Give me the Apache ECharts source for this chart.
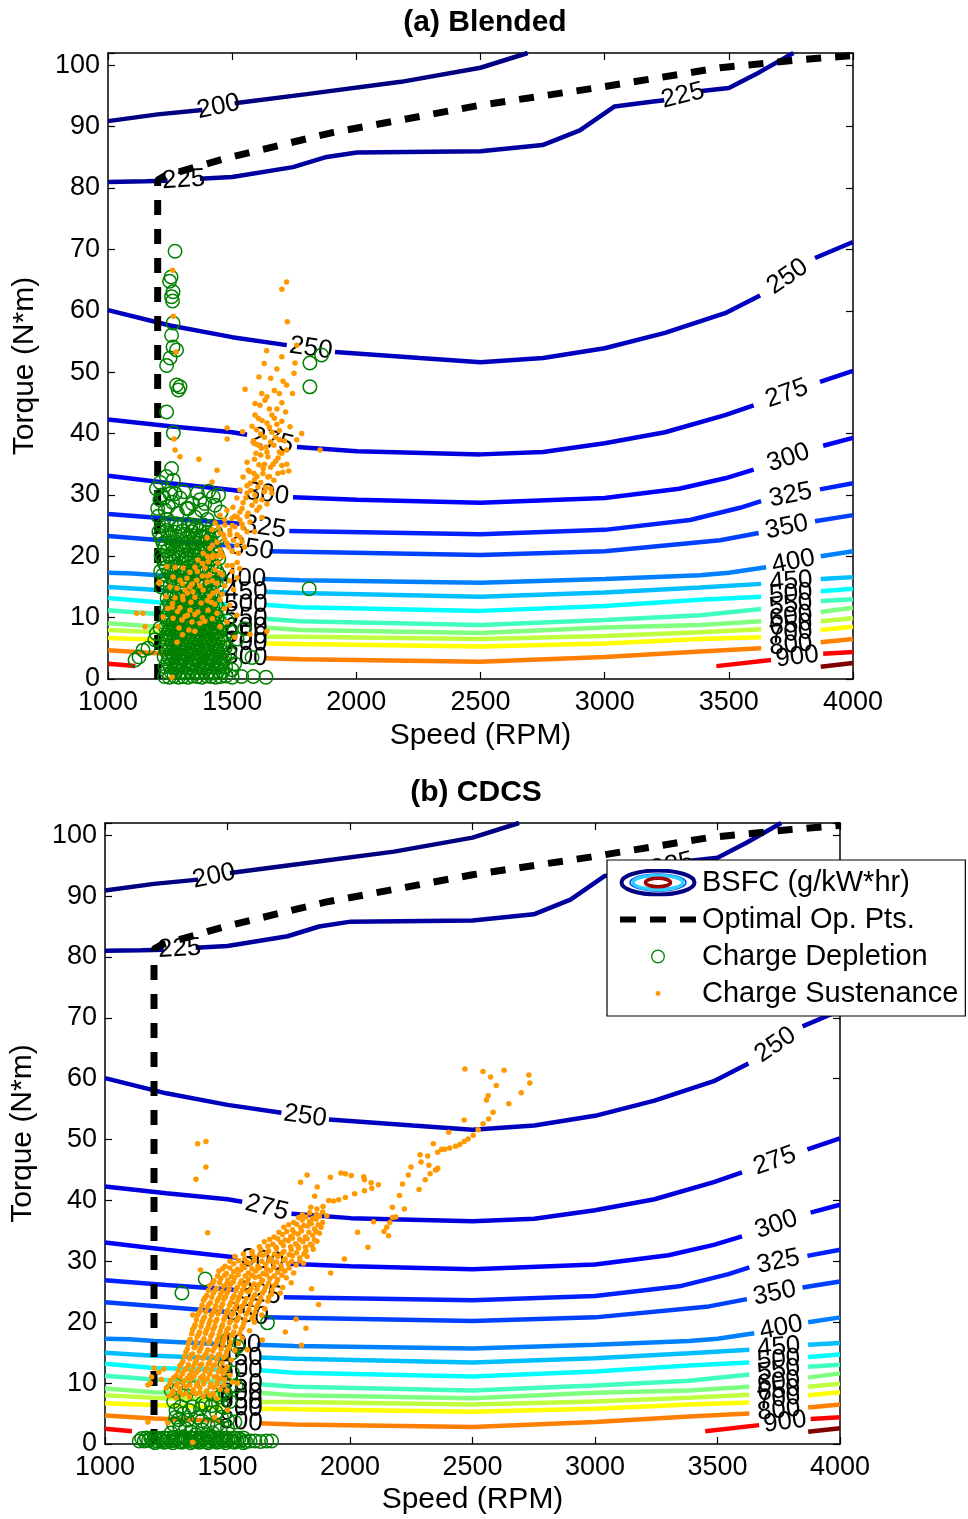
<!DOCTYPE html>
<html>
<head>
<meta charset="utf-8">
<script src="https://cdn.jsdelivr.net/npm/echarts@6/dist/echarts.min.js"></script>
<style>
html,body{margin:0;padding:0;background:#fff;}
#chart{width:968px;height:1519px;}
</style>
</head>
<body>
<div id="chart"></div>
<script>
// BSFC contour levels (g/kW*hr), each traced as a list of line segments; gaps hold the inline labels
const bsfcLevels = [200,225,250,275,300,325,350,400,450,500,550,600,650,700,800,900,1000];

const c200 = [[[1000,90.9],[1200,92],[1380,92.7]],[[1510,93.8],[1800,95.3],[2180,97.3],[2500,99.6],[2690,102]]];
const c225 = [[[1000,81],[1150,81.1],[1240,81.2]],[[1370,81.5],[1500,81.8],[1745,83.4],[1874,85],[2003,85.8],[2500,86],[2750,87],[2900,89.4],[3040,93.3],[3180,94],[3240,94.3]],[[3390,95.8],[3500,96.3],[3620,98.8],[3760,102]]];
const c250 = [[[1000,60.1],[1250,57.6],[1500,55.7],[1720,54.4]],[[1914,53.3],[2256,52.3],[2500,51.6],[2752,52.3],[3000,53.9],[3243,56.4],[3485,59.6],[3626,62.5]],[[3847,68.6],[4000,71.2]]];
const c275 = [[[1000,42.3],[1250,41.2],[1500,40.2],[1560,39.8]],[[1761,37.8],[2003,37.1],[2500,36.6],[2752,37],[3000,38.4],[3243,40.2],[3485,43],[3600,44.6]],[[3867,48.4],[4000,50.2]]];
const c300 = [[[1000,33.1],[1250,31.9],[1500,30.8],[1540,30.6]],[[1745,29.6],[2003,29.2],[2500,28.7],[3000,29.5],[3300,31],[3485,32.7],[3600,34.1]],[[3880,38],[4000,39.3]]];
const c325 = [[[1000,26.9],[1250,26.1],[1500,25.4],[1530,25.3]],[[1730,24.1],[2500,23.6],[3000,24.3],[3344,25.9],[3545,27.9],[3630,29]],[[3867,30.9],[4000,31.9]]];
const c350 = [[[1000,23.3],[1250,22.5],[1500,21.7],[1510,21.6]],[[1650,20.8],[2500,20.2],[3000,20.8],[3465,22.6],[3620,23.8]],[[3847,25.7],[4000,26.7]]];
const c400 = [[[1000,17.3],[1100,17.2],[1200,16.9],[1480,16.4]],[[1620,16.3],[1773,16.1],[2500,15.7],[3000,16.3],[3384,16.9],[3500,17.3],[3650,18.2]],[[3870,20],[4000,20.8]]];
const c450 = [[[1000,15],[1200,14.5],[1480,14.1]],[[1630,14.2],[1773,14],[2500,13.4],[3000,14.1],[3384,14.9],[3630,15.5]],[[3870,16.3],[4000,16.6]]];
const c500 = [[[1000,13.2],[1200,12.5],[1480,12.2]],[[1630,12.1],[1773,11.7],[2500,11.1],[3000,11.9],[3384,12.9],[3630,13.4]],[[3870,14.3],[4000,14.7]]];
const c550 = [[[1000,11.2],[1200,10.6],[1480,10.2]],[[1630,9.8],[1773,9.4],[2500,8.8],[3000,9.6],[3384,10.4],[3630,11.4]],[[3870,12.7],[4000,13]]];
const c600 = [[[1000,9.1],[1200,8.5],[1480,8.3]],[[1630,8.4],[1773,8],[2500,7.5],[3000,8.4],[3384,8.8],[3630,9.4]],[[3870,10.9],[4000,11.6]]];
const c650 = [[[1000,8],[1200,7.6],[1480,7.2]],[[1630,6.9],[1773,6.9],[2500,6.5],[3000,7],[3384,7.6],[3630,8.1]],[[3870,9.4],[4000,9.9]]];
const c700 = [[[1000,6.7],[1200,6.4],[1480,6]],[[1630,5.8],[1773,5.7],[2500,5.3],[3000,5.8],[3384,6.5],[3630,6.8]],[[3870,8],[4000,8.5]]];
const c800 = [[[1000,4.7],[1200,4.2],[1480,3.8]],[[1630,3.4],[1773,3.2],[2500,2.8],[3000,3.6],[3384,4.5],[3630,5]],[[3870,6],[4000,6.5]]];
const c900 = [[[1000,2.5],[1110,2.1]],[[3450,2.1],[3670,3.1]],[[3880,4.1],[4000,4.4]]];
const c1000 = [[[3870,2],[4000,2.6]]];
const bsfcContours = [c200,c225,c250,c275,c300,c325,c350,c400,c450,c500,c550,c600,c650,c700,c800,c900,c1000];

// Optimal operating points (speed RPM, torque N*m)
const optimalPts = [[1200,0],[1200,81.3],[1230,82],[1490,85],[1900,89],[2500,93.5],[2980,96.4],[3465,99.6],[3790,100.9],[4000,101.6]];

// (a) Blended: charge-depletion operating points
const cdBlended = [
[1270,69.7],[1254,65.5],[1248,64.8],[1262,63.1],[1256,62.3],[1260,61.6],[1262,58],[1256,56],[1262,54.1],[1276,53.6],[1250,52.3],[1236,51.1],[1276,47.9],[1290,47.6],[1283,47.1],[1236,43.5],[1263,40.1],[1256,34.3],[1263,32.4],
[1813,51.5],[1860,52.8],[1813,47.6],[1810,14.7],
[1109,3.1],[1125,3.6],[1141,4.7],[1161,5],[1189,6.4],[1209,8.3],[1195,7.4],
[1216,30],[1250,30.2],[1270,30.2],[1243,28.1],[1209,29.2],[1317,27.8],[1370,29.2],[1377,27.5],[1424,29.7],[1431,28.3],[1390,28.6],[1202,26.5],[1276,25.3],[1343,25.1],[1323,27.8],[1230,27.5],[1350,26.4],[1400,26],
[1200,27.8],[1225,29.5],[1260,28.8],[1290,29.5],[1305,30.5],[1340,28.6],[1360,30.3],[1405,30.6],[1445,30],[1455,27.2],[1280,27],[1240,26],[1195,31],[1210,32],[1235,33],
[1215,15.0],[1250,15.2],[1282,14.9],[1313,15.1],[1345,15.0],[1378,15.2],[1410,14.9],[1440,15.1],
[1232,15.6],[1266,15.8],[1298,15.5],[1330,15.7],[1362,15.6],[1395,15.4],[1427,15.7],
[1228,16.2],[1262,16.4],[1295,16.1],[1327,16.3],[1360,16.2],[1392,16.0],[1425,16.3],[1455,16.2],
[1220,16.9],[1253,17.0],[1286,16.8],[1318,17.0],[1350,16.9],[1383,17.1],[1416,16.8],[1446,17.0],
[1212,17.6],[1245,17.4],[1278,17.7],[1310,17.5],[1343,17.6],[1375,17.8],[1408,17.5],[1438,17.6],
[1235,18.2],[1268,18.3],[1300,18.1],[1333,18.4],[1366,18.2],[1398,18.0],[1430,18.3],
[1226,18.9],[1258,19.1],[1292,18.8],[1324,19.0],[1357,18.9],[1390,19.2],[1420,18.9],
[1220,19.6],[1252,19.5],[1286,19.7],[1318,19.6],[1350,19.4],[1384,19.7],[1415,19.5],[1446,19.6],
[1214,20.2],[1247,20.0],[1280,20.3],[1312,20.1],[1345,20.2],[1377,20.4],[1410,20.1],[1440,20.3],
[1238,20.9],[1270,20.8],[1303,21.0],[1336,20.9],[1368,20.7],[1400,21.0],[1432,20.9],
[1229,21.5],[1262,21.7],[1294,21.4],[1327,21.6],[1360,21.5],[1393,21.3],[1425,21.6],
[1222,22.1],[1255,22.2],[1288,22.0],[1320,22.3],[1353,22.1],[1386,22.0],[1418,22.2],
[1216,22.8],[1249,23.0],[1282,22.7],[1315,22.9],[1347,22.8],[1380,23.1],[1412,22.8],[1445,23.0],
[1210,23.4],[1243,23.5],[1276,23.3],[1308,23.6],[1341,23.4],[1373,23.3],[1406,23.5],[1438,23.4],
[1205,24.0],[1236,24.2],[1270,23.9],[1302,24.1],[1335,24.0],[1368,24.2],[1400,23.9],[1432,24.1],
[1220,25.0],[1255,25.3],[1290,24.8],[1322,25.2],[1355,24.7],[1385,25.1],[1420,24.9],
[1228,0.4],[1247,0.3],[1266,0.5],[1284,0.3],[1303,0.4],[1322,0.3],[1341,0.5],[1359,0.4],[1378,0.3],[1397,0.5],[1415,0.4],[1434,0.3],[1453,0.4],[1475,0.5],[1500,0.3],[1538,0.4],[1585,0.4],[1636,0.3],
[1236,1.2],[1255,1.1],[1274,1.3],[1293,1.2],[1311,1.0],[1330,1.3],[1349,1.2],[1368,1.1],[1386,1.3],[1405,1.2],[1424,1.0],[1443,1.3],[1462,1.2],
[1230,2.0],[1249,2.1],[1268,1.9],[1286,2.1],[1305,2.0],[1324,1.9],[1343,2.2],[1361,2.0],[1380,1.9],[1399,2.1],[1418,2.0],[1436,1.9],[1455,2.1],[1474,2.0],
[1240,2.8],[1259,2.9],[1277,2.7],[1296,2.9],[1315,2.8],[1334,2.7],[1353,3.0],[1371,2.8],[1390,2.7],[1409,2.9],[1428,2.8],[1447,2.7],[1466,2.9],
[1226,3.6],[1245,3.5],[1264,3.7],[1283,3.6],[1301,3.5],[1320,3.8],[1339,3.6],[1358,3.5],[1376,3.7],[1395,3.6],[1414,3.5],[1433,3.7],[1452,3.6],[1470,3.5],
[1236,4.4],[1255,4.3],[1273,4.5],[1292,4.4],[1311,4.3],[1330,4.6],[1348,4.4],[1367,4.3],[1386,4.5],[1405,4.4],[1424,4.2],[1442,4.5],[1461,4.4],
[1228,5.2],[1247,5.1],[1266,5.3],[1285,5.2],[1303,5.0],[1322,5.3],[1341,5.2],[1360,5.1],[1378,5.3],[1397,5.2],[1416,5.0],[1435,5.3],[1453,5.2],[1472,5.1],
[1238,6.0],[1257,5.9],[1276,6.1],[1294,6.0],[1313,5.8],[1332,6.1],[1351,6.0],[1369,5.9],[1388,6.1],[1407,6.0],[1426,5.8],[1444,6.1],[1463,6.0],
[1230,6.8],[1249,6.7],[1267,6.9],[1286,6.8],[1305,6.6],[1324,6.9],[1342,6.8],[1361,6.7],[1380,6.9],[1399,6.8],[1417,6.6],[1436,6.9],[1455,6.8],
[1241,7.6],[1260,7.5],[1278,7.7],[1297,7.6],[1316,7.4],[1335,7.7],[1353,7.6],[1372,7.5],[1391,7.7],[1410,7.6],[1428,7.4],[1447,7.7],
[1232,8.4],[1251,8.3],[1270,8.5],[1288,8.4],[1307,8.2],[1326,8.5],[1345,8.4],[1363,8.3],[1382,8.5],[1401,8.4],[1420,8.2],[1438,8.5],[1457,8.4],
[1243,9.2],[1262,9.1],[1281,9.3],[1299,9.2],[1318,9.0],[1337,9.3],[1356,9.2],[1374,9.1],[1393,9.3],[1412,9.2],[1430,9.0],[1449,9.3],
[1234,10.0],[1253,9.9],[1272,10.1],[1290,10.0],[1309,9.8],[1328,10.1],[1347,10.0],[1365,9.9],[1384,10.1],[1403,10.0],[1422,9.8],[1440,10.1],
[1245,10.8],[1264,10.7],[1283,10.9],[1301,10.8],[1320,10.6],[1339,10.9],[1358,10.8],[1376,10.7],[1395,10.9],[1414,10.8],[1433,10.6],
[1236,11.6],[1255,11.5],[1274,11.7],[1292,11.6],[1311,11.4],[1330,11.7],[1349,11.6],[1367,11.5],[1386,11.7],[1405,11.6],[1424,11.4],[1442,11.7],
[1247,12.4],[1266,12.3],[1284,12.5],[1303,12.4],[1322,12.2],[1341,12.5],[1359,12.4],[1378,12.3],[1397,12.5],[1416,12.4],[1434,12.2],
[1238,13.2],[1257,13.1],[1276,13.3],[1294,13.2],[1313,13.0],[1332,13.3],[1351,13.2],[1369,13.1],[1388,13.3],[1407,13.2],[1426,13.0],
[1249,14.0],[1268,13.9],[1287,14.1],[1305,14.0],[1324,13.8],[1343,14.1],[1361,14.0],[1380,13.9],[1399,14.1],[1418,14.0],
[1490,7.8],[1520,6.5],[1550,8.2],[1580,3.5],[1510,2.5],[1490,4.2],[1480,9.5],[1500,1.5]
];

// (a) Blended: charge-sustenance operating points
const csBlended = [
[1260,66.6],[1719,64.7],[1700,63.5],[1263,59.1],[1722,58.2],[1639,53.5],[1274,53.3],[1760,54.4],[1629,51.4],[1753,51.5],[1749,49.8],[1608,49.2],[1719,47.9],[1743,46.5],[1552,47.2],[1619,46.5],[1592,44.9],[1632,45.4],[1612,44.6],[1592,43],[1605,42.5],[1620,42.1],[1640,41.7],[1580,41.2],[1598,40.6],[1615,39.9],[1630,39.4],[1585,38.8],[1600,38.2],[1618,37.6],[1480,40.9],[1480,39.1],[1542,40.3],[1733,41.1],[1719,37.3],[1854,37.3],[1266,39.1],[1270,37.3],[1290,36.2],[1366,35.8],[1439,34],[1419,32.1],
[1588,38.4],[1608,38.1],[1636,37.8],[1668,38.1],[1596,36.8],[1615,36.5],[1644,36.2],[1560,35.3],[1608,34.9],[1588,33.5],[1624,33.5],[1544,32.9],[1644,32.9],[1684,33.5],[1704,33.7],[1728,33.9],[1668,32.4],[1572,31.9],[1604,31.3],[1531,30.8],[1560,30.3],[1592,30],[1620,29.2],[1519,29.5],[1544,28.7],[1580,28.3],[1503,28],[1479,27.5],[1531,27.2],[1564,27],[1600,27.5],[1451,26.7],[1499,26.2],[1531,25.9],[1572,25.6],[1431,25.4],[1471,25.1],[1511,24.8],[1544,24.6],[1419,24.3],[1451,23.8],[1491,23.5],[1531,23.1],[1399,23],[1439,22.3],[1479,22.1],[1519,21.8],[1411,21.3],[1451,21],[1383,20.5],[1423,20.2],[1463,19.9],[1362,19.4],[1403,19.1],[1443,18.9],[1350,18.2],[1391,18.1],[1431,17.8],[1270,18.2],[1302,18.1],[1330,17.4],[1262,16.6],[1290,16.1],[1318,16.4],[1358,16.1],[1399,15.8],[1439,15.6],[1250,15],[1278,14.8],[1310,14.5],[1342,14.2],[1383,14.5],[1423,14],[1234,13.4],[1270,13.2],[1302,12.9],[1334,12.5],[1375,12.4],[1415,12.5],[1451,12.9],[1258,11.7],[1290,11.6],[1330,11.2],[1362,10.9],[1403,11.2],[1439,10.7],[1222,10.1],[1262,9.9],[1298,9.6],[1338,9.3],[1370,9.1],[1286,8.3],[1326,8],[1278,6],[1451,8.5],[1479,9.3],[1519,10.4],[1141,10.7],[1115,10.7],[1149,8.5],[1201,8.5],[1209,15.8],[1237,18.3],[1205,15.6],[1640,7.8],[1572,7.3],[1511,6.8],[1257,0.3],
[1650,41],[1660,40.2],[1670,42.5],[1680,44],[1690,40.5],[1700,42],[1710,38.8],[1690,37],[1675,35.5],[1700,36.8],[1720,35],[1655,34.5],[1760,39],[1780,40],[1565,34],[1590,35.8],[1630,35],[1655,31],[1510,26.5],[1490,24.2],[1470,22.8],[1455,20.5],[1500,20.8],[1540,22.4],[1560,26.5],[1590,24],[1620,26.3],[1640,28.5],[1660,30.3],[1410,17],[1380,16.8],[1470,15.2],[1500,18.5],[1350,13.3],[1450,17.3],[1490,16],[1520,19],[1470,26],[1420,19.8],
[1300,7.2],[1350,7.8],[1390,9.4],[1420,9.8],[1320,10.4],
[1560,31.5],[1590,32.5],[1615,32],[1635,31.2],[1570,33.8],[1600,33],[1625,34.3],[1650,33],[1665,35],[1685,36],[1700,34.8],[1640,37],[1655,38.6],[1675,39.4],[1690,39],[1660,43],[1680,41.5],[1700,45],[1715,43.5],[1690,46.5],[1705,48.5],[1670,47],[1640,46],[1655,49],[1680,50.5],[1700,52.5],[1650,44],
[1500,25],[1520,26.4],[1540,27.8],[1555,29.5],[1575,30.7],[1595,29],[1610,28],[1630,30.5],[1540,25.2],[1560,24],[1520,23.5],[1505,22.6],[1485,21.5],[1465,23.5],[1445,24.7],[1525,20.5],[1550,21.5],[1480,18.5],[1460,17],[1440,20],[1420,21.8],[1400,20],[1380,18.8],[1360,17.5],[1340,15.5],[1320,14],[1300,13.5],[1410,13.5],[1430,12.2],[1400,12.8],[1380,10],[1350,10.5],[1310,10.2],[1280,11],[1260,12.3],[1240,11.5],[1300,15.5],[1330,15],[1370,15.2],[1400,16.8],[1420,16],[1440,14.3],[1460,13.8],[1470,11.5],[1490,12],[1505,14.6],[1520,16.5],[1530,18],[1500,17.5]
];

// (b) CDCS: charge-depletion operating points
const cdCDCS = [
[1140,0.5],[1160,0.5],[1178,0.6],[1196,0.4],[1214,0.5],[1232,0.6],[1250,0.4],[1268,0.5],[1286,0.6],[1304,0.4],[1322,0.5],[1340,0.6],[1358,0.4],[1376,0.5],[1394,0.6],[1412,0.4],[1430,0.5],[1448,0.6],[1466,0.4],[1484,0.5],[1502,0.6],[1520,0.4],[1538,0.5],[1556,0.6],[1574,0.4],[1592,0.5],[1612,0.5],[1635,0.4],[1660,0.5],[1680,0.5],
[1205,0.2],[1241,0.3],[1277,0.2],[1313,0.3],[1349,0.2],[1385,0.3],[1421,0.2],[1457,0.3],[1493,0.2],[1529,0.3],[1565,0.2],
[1150,0.9],[1169,1.0],[1187,0.9],[1205,1.0],[1223,0.9],[1241,1.0],[1259,0.9],[1277,1.0],[1295,0.9],[1313,1.0],[1331,0.9],[1349,1.0],[1367,0.9],[1385,1.0],[1403,0.9],[1421,1.0],[1439,0.9],[1457,1.0],[1475,0.9],[1493,1.0],[1511,0.9],[1529,1.0],[1547,0.9],[1565,1.0],
[1398,6.7],[1358,6.1],[1309,6.1],[1289,4.4],[1337,3.9],[1378,4.4],[1427,5.1],[1305,2.8],[1350,2],[1398,2.3],[1459,3.1],[1480,6.1],[1467,7.7],[1440,8.2],[1508,9.4],[1520,11.7],[1520,15],[1500,17.1],[1490,13],[1300,8.9],[1330,8],[1360,9.2],[1280,7],[1420,3.2],[1370,1.5],[1440,1.8],[1270,1.8],[1320,1.2],
[1290,5.5],[1320,5],[1345,5.5],[1390,5.8],[1410,6.5],[1435,6.3],[1455,5.2],[1475,4.4],[1500,4],[1530,3.6],[1510,7],[1490,8.5],[1280,3.2],[1300,4],[1330,2.5],[1395,3.8],[1415,1.5],[1470,2.2],[1500,2.6],[1290,9.7],[1270,8.8],
[1409,27.1],[1314,24.8],[1663,19.9],[1540,16],[1535,9.5]
];

// (b) CDCS: charge-sustenance operating points
const csCDCS = [
[1262,7.9],[1290,7.6],[1318,8.1],[1345,7.7],[1372,8.2],[1400,7.8],[1428,8.0],[1455,7.5],
[1250,9.2],[1278,8.8],[1305,9.1],[1333,9.4],[1360,8.9],[1388,9.2],[1415,8.7],[1443,9.3],[1470,9.0],[1498,8.8],
[1268,10.4],[1295,10.0],[1322,10.3],[1350,10.6],[1377,10.1],[1405,10.4],[1432,9.9],[1460,10.3],[1488,10.6],
[1290,11.2],[1317,11.6],[1345,11.3],[1372,11.7],[1400,11.2],[1427,11.5],[1455,11.1],[1483,11.6],[1510,11.3],
[1305,12.8],[1332,12.4],[1360,12.7],[1387,12.9],[1415,12.5],[1442,12.8],[1470,12.4],[1498,12.7],
[1318,13.6],[1346,14.0],[1373,13.7],[1401,14.1],[1428,13.6],[1456,13.9],[1484,14.2],[1515,13.8],
[1330,15.1],[1358,14.8],[1385,15.2],[1413,14.9],[1440,15.3],[1468,14.8],[1496,15.1],[1530,15.4],
[1340,16.4],[1368,16.0],[1396,16.3],[1424,16.6],[1452,16.1],[1480,16.4],[1508,16.0],[1545,16.5],
[1348,17.2],[1376,17.6],[1404,17.3],[1432,17.7],[1460,17.2],[1488,17.5],[1516,17.8],[1560,17.4],
[1358,18.8],[1386,18.4],[1414,18.7],[1442,18.9],[1470,18.5],[1498,18.8],[1526,18.4],[1556,18.9],[1590,18.6],
[1368,19.6],[1396,20.0],[1424,19.7],[1452,20.1],[1480,19.6],[1508,19.9],[1536,20.2],[1566,19.8],[1610,20.0],
[1378,21.2],[1406,20.8],[1434,21.1],[1462,21.4],[1490,20.9],[1518,21.2],[1546,20.8],[1576,21.3],[1606,21.0],[1640,21.2],
[1390,22.0],[1418,22.4],[1446,22.1],[1474,22.5],[1502,22.0],[1530,22.3],[1558,22.6],[1588,22.1],[1618,22.4],[1652,22.2],
[1402,23.6],[1430,23.2],[1458,23.5],[1486,23.8],[1514,23.3],[1542,23.6],[1570,23.2],[1600,23.7],[1630,23.4],[1665,23.5],
[1415,24.4],[1443,24.8],[1471,24.5],[1499,24.9],[1527,24.4],[1555,24.7],[1583,25.0],[1613,24.5],[1643,24.8],[1680,24.6],
[1428,26.0],[1456,25.6],[1484,25.9],[1512,26.2],[1540,25.7],[1568,26.0],[1596,25.6],[1626,26.1],[1656,25.8],[1690,26.0],[1725,25.7],
[1445,26.8],[1473,27.2],[1501,26.9],[1529,27.3],[1557,26.8],[1585,27.1],[1613,27.4],[1643,26.9],[1673,27.2],[1705,27.0],[1740,27.3],
[1465,28.4],[1495,28.0],[1525,28.3],[1555,28.6],[1585,28.1],[1615,28.4],[1645,28.0],[1675,28.5],[1705,28.2],[1735,28.4],[1770,28.1],
[1490,29.2],[1525,29.6],[1560,29.3],[1592,29.7],[1624,29.2],[1656,29.5],[1688,29.8],[1718,29.3],[1748,29.6],[1780,29.4],[1810,29.7],
[1530,30.8],[1570,30.4],[1610,30.7],[1645,31.0],[1675,30.5],[1705,30.8],[1735,30.4],[1765,30.9],[1795,30.6],[1825,30.8],
[1600,31.6],[1635,32.0],[1668,31.7],[1700,32.1],[1730,31.6],[1760,31.9],[1790,32.2],[1820,31.7],[1850,32.0],
[1650,33.2],[1685,32.8],[1718,33.1],[1748,33.4],[1778,32.9],[1808,33.2],[1838,32.8],[1865,33.3],
[1690,34.0],[1725,34.4],[1758,34.1],[1788,34.5],[1818,34.0],[1848,34.3],[1875,34.6],
[1730,35.6],[1765,35.2],[1798,35.5],[1828,35.8],[1855,35.3],[1882,35.6],
[1770,36.4],[1805,36.8],[1835,36.5],[1862,36.9],[1888,36.4],
[1805,37.6],[1835,38.0],[1862,37.7],[1888,38.1],[1905,37.5],
[1840,38.9],[1865,38.6],[1890,39.0],
[1276,8.4],[1304,8.6],[1331,8.3],[1359,8.5],[1386,8.4],[1414,8.6],[1442,8.3],
[1264,9.8],[1292,9.6],[1319,9.9],[1347,9.7],[1374,9.6],[1402,9.9],[1429,9.5],[1457,9.8],[1485,9.7],
[1280,10.9],[1308,11.0],[1335,10.8],[1363,11.1],[1390,10.9],[1418,10.7],[1445,11.0],[1472,10.8],
[1298,12.0],[1326,12.2],[1353,11.9],[1381,12.1],[1408,12.0],[1436,12.2],[1463,11.9],[1490,12.1],
[1312,13.2],[1340,13.0],[1367,13.3],[1395,13.1],[1422,13.2],[1450,13.0],[1478,13.3],
[1325,14.4],[1352,14.6],[1380,14.3],[1407,14.5],[1435,14.4],[1462,14.6],[1490,14.4],
[1336,15.6],[1364,15.8],[1391,15.7],[1419,15.5],[1446,15.8],[1474,15.6],[1502,15.7],
[1344,16.9],[1372,16.8],[1400,17.0],[1428,16.9],[1456,16.7],[1484,17.0],[1512,16.8],
[1354,18.1],[1382,18.0],[1410,18.2],[1438,18.1],[1466,17.9],[1494,18.2],[1522,18.0],[1550,18.1],
[1364,19.2],[1392,19.3],[1420,19.1],[1448,19.3],[1476,19.2],[1504,19.0],[1532,19.3],[1562,19.2],
[1373,20.4],[1401,20.5],[1429,20.3],[1457,20.5],[1485,20.4],[1513,20.2],[1541,20.5],[1571,20.4],[1600,20.6],
[1384,21.6],[1412,21.7],[1440,21.5],[1468,21.8],[1496,21.6],[1524,21.5],[1552,21.8],[1582,21.6],[1612,21.7],
[1396,22.8],[1424,22.9],[1452,22.7],[1480,23.0],[1508,22.8],[1536,22.9],[1564,22.7],[1594,23.0],[1624,22.9],
[1408,24.0],[1436,24.1],[1464,23.9],[1492,24.2],[1520,24.0],[1548,24.1],[1576,23.9],[1606,24.2],[1636,24.0],[1668,24.1],
[1422,25.2],[1450,25.3],[1478,25.1],[1506,25.4],[1534,25.2],[1562,25.3],[1590,25.1],[1620,25.4],[1650,25.2],[1682,25.3],
[1440,26.4],[1468,26.5],[1496,26.3],[1524,26.6],[1552,26.4],[1580,26.5],[1608,26.3],[1638,26.6],[1668,26.4],[1700,26.5],
[1460,27.6],[1488,27.7],[1516,27.5],[1544,27.8],[1572,27.6],[1600,27.7],[1630,27.5],[1660,27.8],[1690,27.6],[1722,27.7],
[1480,28.8],[1510,28.9],[1540,28.7],[1570,29.0],[1600,28.8],[1630,28.9],[1660,28.7],[1690,29.0],[1720,28.8],[1752,28.9],
[1510,30.0],[1545,30.1],[1578,29.9],[1610,30.2],[1640,30.0],[1670,30.1],[1700,29.9],[1730,30.2],[1762,30.0],[1795,30.1],
[1565,31.2],[1600,31.3],[1632,31.1],[1662,31.4],[1692,31.2],[1722,31.3],[1752,31.1],[1782,31.4],[1812,31.2],
[1630,32.4],[1665,32.5],[1698,32.3],[1728,32.6],[1758,32.4],[1788,32.5],[1818,32.3],[1845,32.6],
[1672,33.6],[1705,33.7],[1735,33.5],[1765,33.8],[1795,33.6],[1825,33.7],[1855,33.5],
[1710,34.8],[1742,34.9],[1772,34.7],[1802,35.0],[1832,34.8],[1862,34.9],
[1750,36.0],[1782,36.1],[1812,35.9],[1842,36.2],[1870,36.0],
[1790,37.2],[1820,37.3],[1848,37.1],[1875,37.4],
[1378,49.3],[1412,49.7],[1412,45.5],[1371,43.5],[1419,34.7],[1390,28.6],[1358,21.2],[1715,24.8],[1736,18.4],[1642,17.1],[1520,10.2],[1541,10],[1581,15.5],[1500,5.6],[1358,0.3],[1175,3.6],[1256,3.5],[1447,4.4],[1190,11],[1200,12.5],[1185,10],[1175,9.7],[1220,11.8],[1240,12.3],[1230,10.6],
[1802,16.2],[1843,25.5],[1872,22.9],[1921,28.1],[1977,30.4],[2031,34.8],[2073,32.3],[2096,36.5],[1856,40.7],[1866,42.2],[1798,43],[1825,44.2],[1920,43.8],[1963,44.5],[1981,44.4],[2005,44.1],[2056,43.9],[2059,43.4],[2086,42.9],[1913,40],[1933,39.9],[1954,40.1],[1981,40.5],[2019,41.1],[2059,41.6],[2089,42],[2116,42.6],
[2139,34.9],[2157,34.2],[2150,35.6],[2162,36.4],[2173,37.2],[2187,37.3],[2173,38.9],[2222,38.6],[2202,40.8],[2282,41.8],[2214,42.7],[2307,43.4],[2238,44.2],[2327,44.4],[2354,45.1],[2358,45.3],[2349,45],[2322,45.8],[2249,45.5],[2290,46.3],[2317,47.3],[2286,47.5],[2340,49.3],[2403,51.2],[2358,47.9],[2374,48.4],[2387,48.4],[2407,48.6],[2431,48.9],[2448,49.2],[2466,49.7],[2482,50.1],[2503,50.7],[2523,51.6],[2543,52.6],[2466,53.2],[2566,53.4],[2584,54.5],[2648,55.9],[2557,56.5],[2564,57.2],[2699,57.7],[2597,58.9],[2734,59.3],[2730,60.6],[2574,60.3],[2629,61.4],[2543,61.2],[2469,61.6],
[1780,20.5],[1820,19],[1760,26.5]
];

// ---------- styling ----------
const FONT = '"Liberation Sans", Arial, Helvetica, sans-serif';
const levelColors = ['#000080','#00009F','#0000BF','#0000DF','#0000FF','#0020FF','#0040FF','#0080FF','#00BFFF','#00FFFF','#40FFBF','#80FF80','#BFFF40','#FFFF00','#FF8000','#FF0000','#800000'];
const X_MIN = 1000, X_MAX = 4000, Y_MIN = 0, Y_MAX = 102;
const grids = [
  {left:108, top:53, width:745, height:626},
  {left:102, top:823, width:738, height:621}
];

function svgIcon(body){
  const svg = "<svg xmlns='http://www.w3.org/2000/svg' width='78' height='28' viewBox='0 0 78 28'>" + body + "</svg>";
  return 'image://data:image/svg+xml;charset=utf-8,' + encodeURIComponent(svg);
}
const iconBSFC = svgIcon(
  "<ellipse cx='39' cy='14' rx='36.5' ry='12' fill='white' stroke='#000080' stroke-width='4'/>" +
  "<ellipse cx='39' cy='14' rx='28' ry='8.6' fill='none' stroke='#0040FF' stroke-width='1.5'/>" +
  "<ellipse cx='39' cy='14' rx='25' ry='7' fill='none' stroke='#33CCFF' stroke-width='3.5'/>" +
  "<ellipse cx='39' cy='14' rx='12.5' ry='4.2' fill='white' stroke='#A00000' stroke-width='3.5'/>");
const iconOpt = svgIcon(
  "<rect x='1' y='11' width='16' height='6' fill='black'/><rect x='31' y='11' width='16' height='6' fill='black'/><rect x='61' y='11' width='16' height='6' fill='black'/>");
const iconCD = svgIcon("<circle cx='39' cy='14' r='6.3' fill='none' stroke='#008000' stroke-width='1.3'/>");
const iconCS = svgIcon("<circle cx='39' cy='14' r='2.4' fill='#FF9900'/>");

function axisPair(g){
  const common = {
    type:'value', gridIndex:g, splitLine:{show:false},
    axisLine:{show:true, onZero:false, lineStyle:{color:'#000', width:1.5}},
    axisTick:{show:true, inside:true, length:7, lineStyle:{color:'#000', width:1.2}}
  };
  const xs = [
    Object.assign({}, common, {
      min:X_MIN, max:X_MAX, interval:500, position:'bottom',
      axisLabel:{color:'#000', fontSize:27, fontFamily:FONT, margin:10, formatter:v => String(v)},
      name:'Speed (RPM)', nameLocation:'middle', nameGap:g === 0 ? 42 : 41,
      nameTextStyle:{color:'#000', fontSize:30, fontFamily:FONT}
    }),
    Object.assign({}, common, {min:X_MIN, max:X_MAX, interval:500, position:'top', axisLabel:{show:false}})
  ];
  const ys = [
    Object.assign({}, common, {
      min:Y_MIN, max:Y_MAX, interval:10, position:'left',
      axisLabel:{color:'#000', fontSize:27, fontFamily:FONT, margin:8,
        formatter:v => (v % 10 === 0 ? String(v) : '')},
      name:'Torque (N*m)', nameLocation:'middle', nameGap:g === 0 ? 68 : 67,
      nameTextStyle:{color:'#000', fontSize:30, fontFamily:FONT}
    }),
    Object.assign({}, common, {min:Y_MIN, max:Y_MAX, interval:10, position:'right', axisLabel:{show:false}})
  ];
  return {xs, ys};
}

function panelSeries(g, cd, cs){
  const gr = grids[g];
  const kx = gr.width / (X_MAX - X_MIN);
  const ky = gr.height / (Y_MAX - Y_MIN);
  const xi = 2 * g, yi = 2 * g;
  const out = [];
  const labels = [];
  bsfcContours.forEach((segs, i) => {
    segs.forEach(seg => {
      out.push({
        type:'line', name:'BSFC (g/kW*hr)', xAxisIndex:xi, yAxisIndex:yi,
        data:seg, symbol:'none', showSymbol:false, silent:true, animation:false, z:2,
        lineStyle:{color:levelColors[i], width:4.5}, itemStyle:{color:levelColors[i]}
      });
    });
    // an inline label sits in every short gap between consecutive segments
    for (let k = 0; k < segs.length - 1; k++) {
      const a = segs[k][segs[k].length - 1];
      const b = segs[k + 1][0];
      if (b[0] - a[0] > 400) continue;
      const ang = Math.atan2((b[1] - a[1]) * ky, (b[0] - a[0]) * kx) * 180 / Math.PI;
      labels.push({value:[(a[0] + b[0]) / 2, (a[1] + b[1]) / 2],
                   label:{formatter:String(bsfcLevels[i]), rotate:ang}});
    }
  });
  out.push({
    type:'scatter', name:'contour labels', xAxisIndex:xi, yAxisIndex:yi, data:labels,
    symbolSize:1, itemStyle:{color:'rgba(255,255,255,0)', opacity:1}, silent:true, animation:false, z:3,
    label:{show:true, position:'inside', color:'#000', opacity:1, fontSize:26, fontFamily:FONT, textBorderWidth:0},
    labelLayout:{hideOverlap:false}
  });
  out.push({
    type:'line', name:'Optimal Op. Pts.', xAxisIndex:xi, yAxisIndex:yi, data:optimalPts,
    symbol:'none', showSymbol:false, silent:true, animation:false, z:4,
    lineStyle:{color:'#000', width:7, type:[15,14]}, itemStyle:{color:'#000'}
  });
  out.push({
    type:'scatter', name:'Charge Depletion', xAxisIndex:xi, yAxisIndex:yi, data:cd,
    symbol:'circle', symbolSize:13.5, silent:true, animation:false, z:5,
    itemStyle:{color:'rgba(0,0,0,0)', borderColor:'#008000', borderWidth:1.5, opacity:1}
  });
  out.push({
    type:'scatter', name:'Charge Sustenance', xAxisIndex:xi, yAxisIndex:yi, data:cs,
    symbol:'circle', symbolSize:5.5, silent:true, animation:false, z:6,
    itemStyle:{color:'#FF9900', opacity:1}
  });
  return out;
}

const a0 = axisPair(0), a1 = axisPair(1);
const option = {
  backgroundColor:'#fff',
  animation:false,
  title:[
    {text:'(a) Blended', left:480, top:3, textAlign:'center',
     textStyle:{color:'#000', fontSize:30, fontWeight:'bold', fontFamily:FONT}},
    {text:'(b) CDCS', left:471, top:773, textAlign:'center',
     textStyle:{color:'#000', fontSize:30, fontWeight:'bold', fontFamily:FONT}}
  ],
  grid:grids.map(g => Object.assign({containLabel:false}, g)),
  xAxis:[...a0.xs, ...a1.xs],
  yAxis:[...a0.ys, ...a1.ys],
  legend:{
    orient:'vertical', left:607, top:860, selectedMode:false,
    itemWidth:78, itemHeight:28, itemGap:8, padding:[8,7,8,12],
    backgroundColor:'#fff', borderColor:'#000', borderWidth:1.2, borderRadius:0,
    textStyle:{color:'#000', fontSize:29, fontFamily:FONT},
    data:[
      {name:'BSFC (g/kW*hr)', icon:iconBSFC},
      {name:'Optimal Op. Pts.', icon:iconOpt},
      {name:'Charge Depletion', icon:iconCD},
      {name:'Charge Sustenance', icon:iconCS}
    ]
  },
  series:[...panelSeries(0, cdBlended, csBlended), ...panelSeries(1, cdCDCS, csCDCS)]
};

const chart = echarts.init(document.getElementById('chart'), null, {renderer:'canvas'});
chart.setOption(option);
</script>
</body>
</html>
